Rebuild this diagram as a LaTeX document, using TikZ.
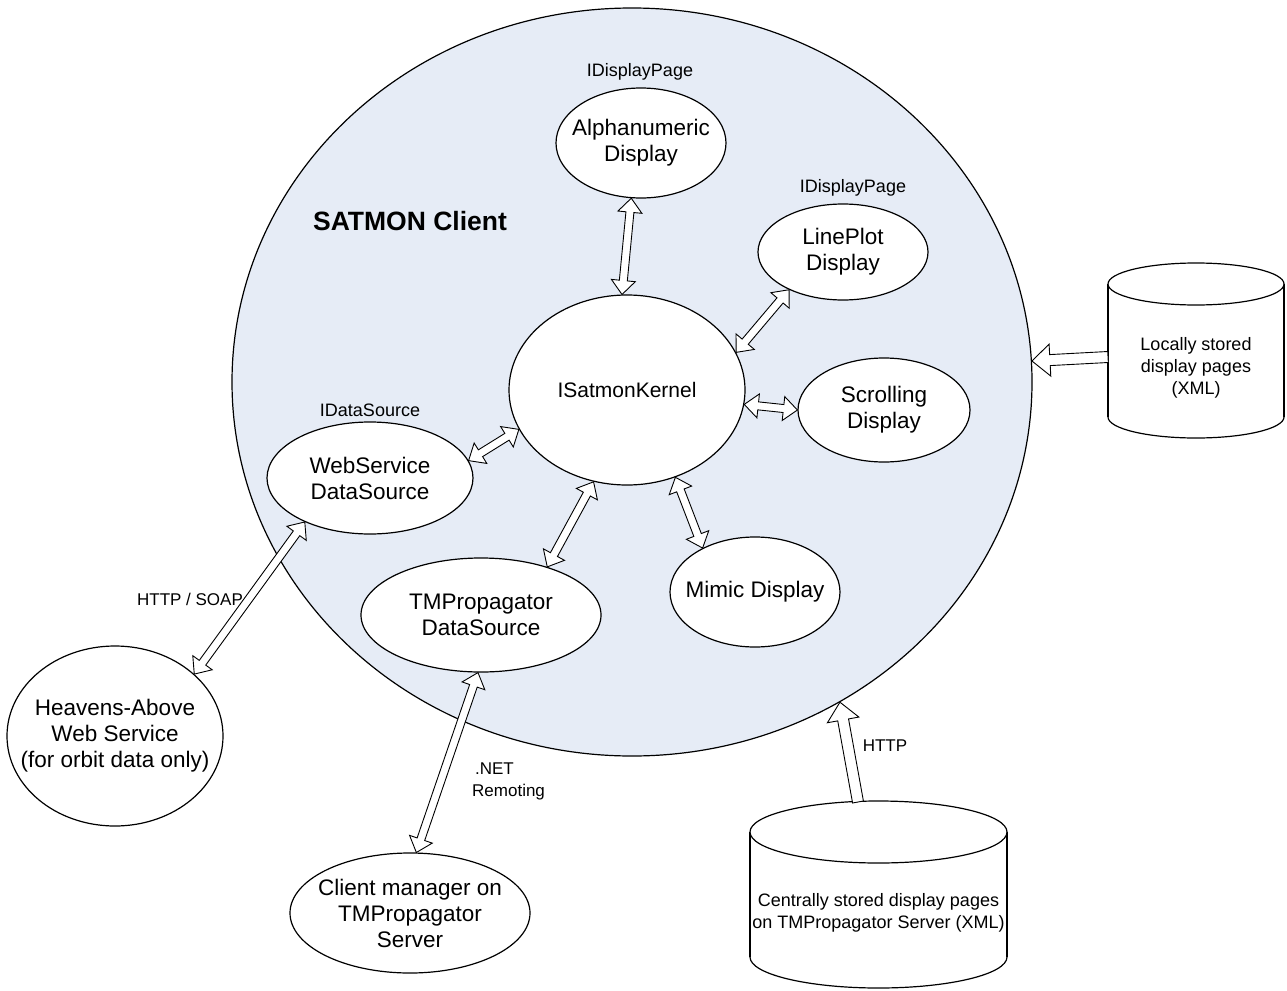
\documentclass[tikz,border=0pt]{standalone}
\usepackage{fontspec}
\setmainfont{Liberation Sans}
\usetikzlibrary{calc,shapes.geometric}
\definecolor{satfill}{RGB}{230,236,246}

% angle and length between two points, kept in \arrang and \arrlen
\newcommand\arrowframe[2]{%
  \path let \p1=(#1), \p2=(#2) in
    \pgfextra{%
      \pgfmathsetmacro\tmpang{atan2(\y2-\y1,\x2-\x1)}%
      \pgfmathsetmacro\tmplen{veclen(\x2-\x1,\y2-\y1)}%
      \global\let\arrang\tmpang
      \global\let\arrlen\tmplen};%
}
% hollow block arrow with a head at both ends
\newcommand\twowayarrow[2]{%
  \arrowframe{#1}{#2}%
  \begin{scope}[shift={(#1)},rotate=\arrang]
    \draw[blockarrow] (0pt,0pt) -- (14pt,12pt) -- (14pt,4pt)
      -- ({\arrlen pt-14pt},4pt) -- ({\arrlen pt-14pt},12pt) -- ({\arrlen pt},0pt)
      -- ({\arrlen pt-14pt},-12pt) -- ({\arrlen pt-14pt},-4pt) -- (14pt,-4pt)
      -- (14pt,-12pt) -- cycle;
  \end{scope}}
% hollow block arrow pointing from #1 to #2
\newcommand\onewayarrow[2]{%
  \arrowframe{#1}{#2}%
  \begin{scope}[shift={(#1)},rotate=\arrang]
    \draw[blockarrow] (0pt,5.5pt) -- ({\arrlen pt-18pt},5.5pt) -- ({\arrlen pt-18pt},16pt)
      -- ({\arrlen pt},0pt) -- ({\arrlen pt-18pt},-16pt) -- ({\arrlen pt-18pt},-5.5pt)
      -- (0pt,-5.5pt) -- cycle;
  \end{scope}}

\begin{document}
\begin{tikzpicture}[x=1pt,y=-1pt,
  unit/.style={ellipse,draw,fill=white,line width=1.2pt,inner xsep=-40pt,inner ysep=-30pt,
    align=center,font=\fontsize{22.5}{26}\selectfont},
  tag/.style={inner sep=0pt,align=center,font=\fontsize{18}{22}\selectfont},
  proto/.style={inner sep=0pt,align=center,font=\fontsize{17}{22}\selectfont},
  title/.style={inner sep=0pt,font=\fontsize{26.5}{30}\selectfont\bfseries},
  blockarrow/.style={draw=black,fill=white,line width=0.9pt,line join=miter},
  store/.style={draw=black,line width=1.2pt}]
\useasboundingbox (0,0) rectangle (1287,990);

% client application boundary
\node[ellipse,draw,fill=satfill,line width=1.2pt,minimum width=800pt,minimum height=748pt,inner sep=0pt]
  (satmon) at (632,382) {};
\node[title] (satlabel) at (410,221) {SATMON Client};

% components
\node[unit,minimum width=170pt,minimum height=110pt] (alpha) at (641,143) {Alphanumeric\\Display};
\node[tag] (ifalpha) at (640,72) {IDisplayPage};
\node[unit,minimum width=170pt,minimum height=96pt] (lineplot) at (843,252) {LinePlot\\Display};
\node[tag] (ifline) at (853,188) {IDisplayPage};
\node[unit,minimum width=236pt,minimum height=190pt,font=\fontsize{21}{26}\selectfont]
  (kernel) at (627,390) {ISatmonKernel};
\node[unit,minimum width=172pt,minimum height=104pt] (scroll) at (884,410) {Scrolling\\Display};
\node[unit,minimum width=206pt,minimum height=112pt] (ws) at (370,478) {WebService\\DataSource};
\node[tag] (ifws) at (370,410) {IDataSource};
\node[unit,minimum width=240pt,minimum height=114pt] (tmp) at (481,615) {TMPropagator\\DataSource};
\node[unit,minimum width=170pt,minimum height=110pt] (mimic) at (755,592) {Mimic Display};

% external parties
\node[unit,minimum width=216pt,minimum height=180pt] (heavens) at (115,736)
  {Heavens-Above\\Web Service\\(for orbit data only)};
\node[unit,minimum width=240pt,minimum height=120pt] (client) at (410,913)
  {Client manager on\\TMPropagator\\Server};

% local page store
\draw[store,fill=white] (1196,417) ellipse[x radius=88,y radius=21];
\fill[white] (1108,284) rectangle (1284,417);
\draw[store] (1108,284) -- (1108,417) (1284,284) -- (1284,417);
\draw[store,fill=white] (1196,284) ellipse[x radius=88,y radius=21];
\node[tag] (local) at (1196,368) {Locally stored\\display pages\\(XML)};
\coordinate (localside) at (1108,357);

% central page store
\draw[store,fill=white] (878.5,957) ellipse[x radius=128.5,y radius=31];
\fill[white] (750,832) rectangle (1007,957);
\draw[store] (750,832) -- (750,957) (1007,832) -- (1007,957);
\draw[store,fill=white] (878.5,832) ellipse[x radius=128.5,y radius=31];
\node[tag] (central) at (878.5,913) {Centrally stored display pages\\on TMPropagator Server (XML)};
\coordinate (centraltop) at (858,802);

% interfaces between the parts
\twowayarrow{alpha.-100}{kernel.93}
\twowayarrow{lineplot.215}{kernel.19}
\twowayarrow{kernel.-7}{scroll.180}
\twowayarrow{ws.10}{kernel.200}
\twowayarrow{tmp.36}{kernel.-110}
\twowayarrow{mimic.140}{kernel.-61}
\twowayarrow{ws.-146}{heavens.38}
\twowayarrow{tmp.-93}{client.84}
\onewayarrow{centraltop}{satmon.-57}
\onewayarrow{localside}{satmon.3}

% protocol labels
\node[proto] (soap) at (190,599) {HTTP / SOAP};
\node[proto,align=left,anchor=west] (remoting) at (472,781) {\,.NET\\Remoting};
\node[proto] (http) at (885,746) {HTTP};
\end{tikzpicture}
\end{document}
